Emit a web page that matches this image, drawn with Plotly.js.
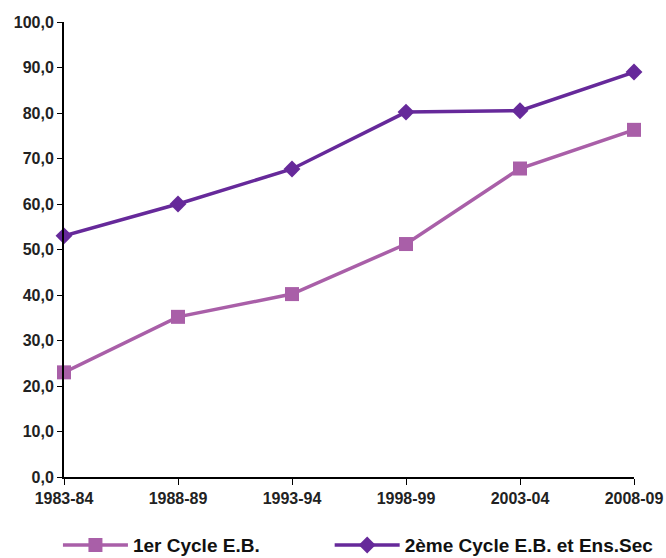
<!DOCTYPE html>
<html><head><meta charset="utf-8">
<script src="https://cdn.plot.ly/plotly-3.0.1.min.js"></script>
<style>html,body{margin:0;padding:0;background:#fff}#chart{width:666px;height:558px}</style>
</head><body><div id="chart"></div>
<script>
const categories = ["1983-84","1988-89","1993-94","1998-99","2003-04","2008-09"];
const cycle1 = [23.0, 35.2, 40.2, 51.2, 67.8, 76.3];
const cycle2 = [53.0, 60.0, 67.7, 80.2, 80.5, 89.0];
const yTickVals = [0,10,20,30,40,50,60,70,80,90,100];
const yTickText = ["0,0","10,0","20,0","30,0","40,0","50,0","60,0","70,0","80,0","90,0","100,0"];

const traces = [
  {x: categories, y: cycle1, name: "1er Cycle E.B.", type: "scatter", mode: "lines+markers", cliponaxis: false,
   legend: "legend",
   line: {color: "#A95FA8", width: 3.5}, marker: {symbol: "square", size: 14, color: "#A95FA8"}},
  {x: categories, y: cycle2, name: "2ème Cycle E.B. et Ens.Sec", type: "scatter", mode: "lines+markers", cliponaxis: false,
   legend: "legend2",
   line: {color: "#66299A", width: 3.5}, marker: {symbol: "diamond", size: 13, color: "#66299A"}}
];
const legendCommon = {orientation: "h", xref: "container", yref: "container", y: 0.023,
  xanchor: "left", yanchor: "middle", itemwidth: 65,
  font: {size: 19, color: "#111", weight: "bold"}};
const layout = {
  width: 666, height: 558,
  margin: {l: 64, r: 32, t: 22, b: 81},
  paper_bgcolor: "#fff", plot_bgcolor: "#fff",
  font: {family: "Liberation Sans, Arial, sans-serif", size: 16, color: "#222"},
  showlegend: true,
  legend: Object.assign({}, legendCommon, {x: 0.087}),
  legend2: Object.assign({}, legendCommon, {x: 0.495}),
  xaxis: {type: "category", range: [0, 5], showgrid: false, zeroline: false, automargin: false,
    showline: true, linecolor: "#000", linewidth: 2, ticks: "outside", ticklen: 6, tickcolor: "#000", tickwidth: 1,
    tickfont: {size: 16, weight: "bold", color: "#222"}},
  yaxis: {range: [0, 100], tickvals: yTickVals, ticktext: yTickText, showgrid: false, zeroline: false, automargin: false,
    showline: true, linecolor: "#000", linewidth: 2, ticks: "outside", ticklen: 5, tickcolor: "#000", tickwidth: 1,
    tickfont: {size: 16, weight: "bold", color: "#222"}}
};
Plotly.newPlot("chart", traces, layout, {displayModeBar: false});
</script></body></html>
